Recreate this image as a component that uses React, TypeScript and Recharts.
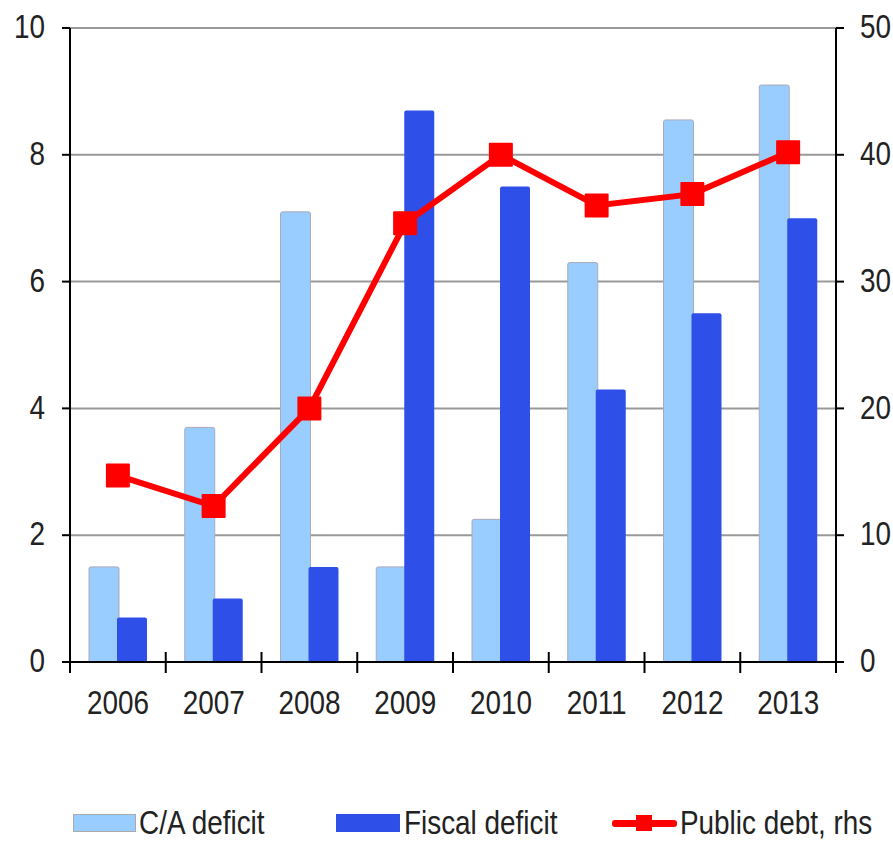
import React from "react"
import {
  Bar,
  CartesianGrid,
  ComposedChart,
  Legend,
  Line,
  XAxis,
  YAxis,
} from "recharts"

const years = ["2006", "2007", "2008", "2009", "2010", "2011", "2012", "2013"]
const caDeficit = [1.5, 3.7, 7.1, 1.5, 2.25, 6.3, 8.55, 9.1]
const fiscalDeficit = [0.7, 1.0, 1.5, 8.7, 7.5, 4.3, 5.5, 7.0]
const publicDebt = [14.7, 12.3, 20.0, 34.6, 40.0, 36.0, 36.9, 40.2]
const leftTicks = [0, 2, 4, 6, 8, 10]
const rightTicks = [0, 10, 20, 30, 40, 50]

const data = years.map((year, i) => ({
  year,
  ca: caDeficit[i],
  fiscal: fiscalDeficit[i],
  debt: publicDebt[i],
}))

const FONT = "'Liberation Sans', Arial, sans-serif"
const LIGHT = "#99CCFF"
const DARK = "#2F50E8"
const RED = "#FF0000"
const TXT = "#222"
const SQUEEZE = 0.82
const X_TICK_MARGIN = 28

// narrow-looking tick labels (no condensed font available, so squeeze it)
const NarrowTick = (props: any) => {
  const { x, y, payload, textAnchor, dy } = props
  return (
    <text
      transform={`translate(${x},${y}) scale(${SQUEEZE},1)`}
      textAnchor={textAnchor}
      dy={dy}
      fontSize={34}
      fontFamily={FONT}
      fill={TXT}
    >
      {payload.value}
    </text>
  )
}

// category label plus excel-style tick marks between the categories
const YearTick = (props: any) => {
  const { x, y, payload, index, visibleTicksCount } = props
  const half = payload.offset ?? 0
  const axisY = y - X_TICK_MARGIN
  const isLast = index === (visibleTicksCount ?? years.length) - 1
  return (
    <g>
      <line x1={x - half} x2={x - half} y1={axisY - 10} y2={axisY + 11} stroke="#000" strokeWidth={2} />
      {isLast && (
        <line x1={x + half} x2={x + half} y1={axisY - 10} y2={axisY + 11} stroke="#000" strokeWidth={2} />
      )}
      <NarrowTick x={x} y={y} payload={payload} textAnchor="middle" dy="0.71em" />
    </g>
  )
}

const SquareDot = (props: any) => {
  const { cx, cy } = props
  if (cx == null || cy == null) return null
  return <rect x={cx - 12} y={cy - 12} width={24} height={24} fill={RED} rx={1} />
}

const renderLegend = () => {
  const text: React.CSSProperties = {
    position: "absolute",
    top: 0,
    fontSize: 34,
    lineHeight: "40px",
    color: TXT,
    fontFamily: FONT,
    whiteSpace: "nowrap",
    transform: `scaleX(${SQUEEZE})`,
    transformOrigin: "left center",
  }
  return (
    <div style={{ position: "relative", width: 893, height: 40 }}>
      <div style={{ position: "absolute", left: 73, top: 12, width: 63, height: 18, background: LIGHT, border: "1px solid #aaa", boxSizing: "border-box" }} />
      <span style={{ ...text, left: 139 }}>C/A deficit</span>
      <div style={{ position: "absolute", left: 336, top: 12, width: 64, height: 18, background: DARK }} />
      <span style={{ ...text, left: 404 }}>Fiscal deficit</span>
      <div style={{ position: "absolute", left: 612, top: 18, width: 65, height: 7, background: RED, borderRadius: 3 }} />
      <div style={{ position: "absolute", left: 636, top: 13, width: 16, height: 16, background: RED }} />
      <span style={{ ...text, left: 680 }}>Public debt, rhs</span>
    </div>
  )
}

export default function App() {
  return (
    <div style={{ position: "absolute", left: 0, top: 0, width: 893, height: 844, background: "#fff" }}>
      <ComposedChart
        width={893}
        height={844}
        data={data}
        margin={{ top: 28, right: 0, bottom: 82, left: 0 }}
        barSize={30}
        barGap={-2}
      >
        <CartesianGrid vertical={false} stroke="#999" strokeWidth={2} yAxisId="left" />
        <XAxis
          dataKey="year"
          tick={<YearTick />}
          tickSize={0}
          tickMargin={X_TICK_MARGIN}
          axisLine={{ stroke: "#000", strokeWidth: 2 }}
          height={60}
          interval={0}
        />
        <YAxis
          yAxisId="left"
          domain={[0, 10]}
          ticks={leftTicks}
          width={70}
          tick={<NarrowTick dy="0.3em" />}
          tickSize={8}
          tickMargin={17}
          axisLine={{ stroke: "#000", strokeWidth: 2 }}
          tickLine={{ stroke: "#000", strokeWidth: 2 }}
        />
        <YAxis
          yAxisId="right"
          orientation="right"
          domain={[0, 50]}
          ticks={rightTicks}
          width={57}
          tick={<NarrowTick dy="0.3em" />}
          tickSize={8}
          tickMargin={16}
          axisLine={{ stroke: "#000", strokeWidth: 2 }}
          tickLine={{ stroke: "#000", strokeWidth: 2 }}
        />
        <Bar yAxisId="left" dataKey="ca" name="C/A deficit" fill={LIGHT} stroke="#aab" strokeWidth={1} radius={[2, 2, 0, 0]} isAnimationActive={false} />
        <Bar yAxisId="left" dataKey="fiscal" name="Fiscal deficit" fill={DARK} radius={[2, 2, 0, 0]} isAnimationActive={false} />
        <Line
          yAxisId="right"
          dataKey="debt"
          name="Public debt, rhs"
          stroke={RED}
          strokeWidth={6}
          type="linear"
          dot={<SquareDot />}
          activeDot={false}
          isAnimationActive={false}
        />
        <Legend
          content={renderLegend}
          wrapperStyle={{ top: 802, left: 0, bottom: "auto", width: 893, height: 40 }}
        />
      </ComposedChart>
    </div>
  )
}
